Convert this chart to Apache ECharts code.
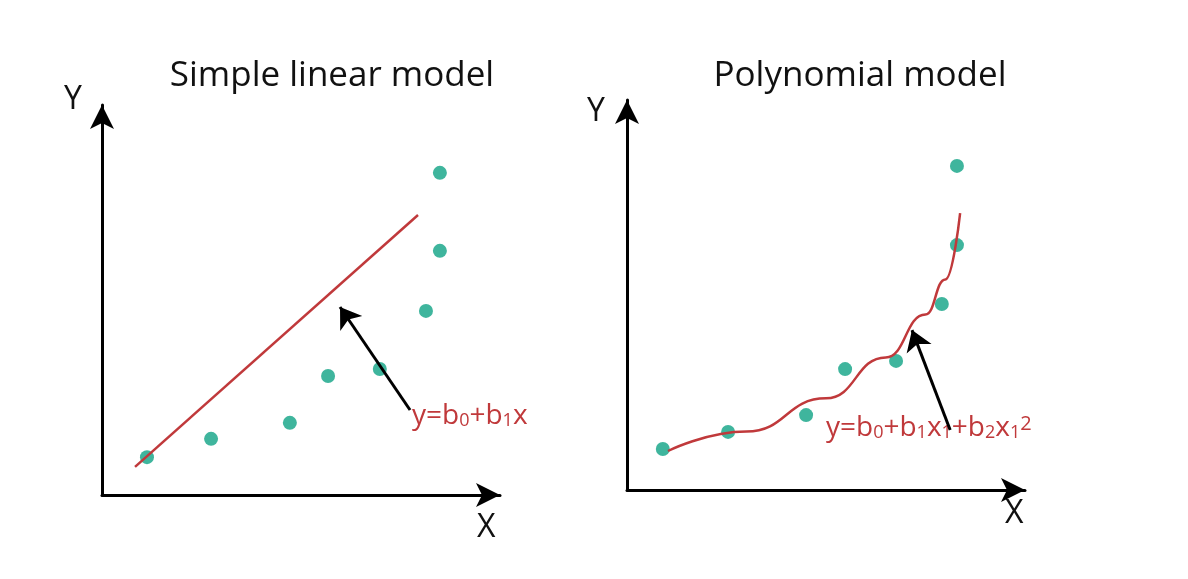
<!DOCTYPE html><html><head><meta charset="utf-8"><script src="https://cdn.jsdelivr.net/npm/echarts@6/dist/echarts.min.js"></script>
<style>body{margin:0;background:#fff}#c{width:1188px;height:579px}</style></head><body><div id="c"></div><script>
const linX=[11.3,27.4,47.2,56.8,69.8,81.4,84.9,84.9];
const linY=[9.7,14.4,18.5,30.5,32.3,47.2,62.6,82.6];
const linFit=[[8.3,7.2],[79.4,71.8]];
const polX=[9.0,25.4,45.0,54.8,67.6,79.1,82.9,82.9];
const polY=[10.5,14.9,19.2,31.0,33.1,47.7,62.8,83.1];
const polFit=[[10.3,10],[30,15],[50,23.5],[65,34],[75,45],[80,54],[83.7,71]];
const titles=['Simple linear model','Polynomial model'];
const teal='#0fa384', red='#c0393b', F='Open Sans';
const zip=(a,b)=>a.map((v,i)=>[v,b[i]]);
const ax=(i)=>({type:'value',gridIndex:i,min:0,max:100,splitLine:{show:false},axisTick:{show:false},axisLabel:{show:false},
 axisLine:{show:true,symbol:['none','arrow'],symbolSize:[18,24],lineStyle:{color:'#000',width:3}}});
const arrow=(i,p)=>({type:'lines',xAxisIndex:i,yAxisIndex:i,coordinateSystem:'cartesian2d',symbol:['none','arrow'],symbolSize:20,
 lineStyle:{color:'#000',width:3,opacity:1},data:[{coords:p}],z:5});
const rich={s:{fontSize:18,fill:red,fontFamily:F,padding:[10,0,0,0]},n:{fontSize:28,fill:red,fontFamily:F},t:{fontSize:20,fill:red,fontFamily:F,padding:[0,0,8,0]}};
const c=echarts.init(document.getElementById('c'));
c.setOption({animation:false,
 title:[{text:titles[0],left:327,top:54,textAlign:'center'},{text:titles[1],left:855,top:54,textAlign:'center'}].map(t=>({...t,textStyle:{fontFamily:F,fontWeight:'normal',fontSize:35,color:'#111'}})),
 grid:[{left:102,top:105,width:398,height:390},{left:627,top:100,width:398,height:390}],
 xAxis:[ax(0),ax(1)],yAxis:[ax(0),ax(1)],
 graphic:[
  {type:'text',left:64,top:84,style:{text:'Y',font:'32px "Open Sans"',fill:'#111'}},
  {type:'text',left:477,top:512,style:{text:'X',font:'32px "Open Sans"',fill:'#111'}},
  {type:'text',left:587,top:96,style:{text:'Y',font:'32px "Open Sans"',fill:'#111'}},
  {type:'text',left:1005,top:498,style:{text:'X',font:'32px "Open Sans"',fill:'#111'}},
  {type:'text',left:412,top:402,style:{rich,text:'{n|y=b}{s|0}{n|+b}{s|1}{n|x}'}},
  {type:'text',left:826,top:414,style:{rich,text:'{n|y=b}{s|0}{n|+b}{s|1}{n|x}{s|1}{n|+b}{s|2}{n|x}{s|1}{t|2}'}}
 ],
 series:[
  {type:'line',xAxisIndex:0,yAxisIndex:0,data:linFit,symbol:'none',lineStyle:{color:red,width:2.5}},
  {type:'scatter',xAxisIndex:0,yAxisIndex:0,data:zip(linX,linY),symbolSize:14,itemStyle:{color:teal}},
  arrow(0,[[77.4,21.8],[59.8,48.2]]),
  {type:'line',xAxisIndex:1,yAxisIndex:1,data:polFit,smooth:0.5,smoothMonotone:'x',symbol:'none',lineStyle:{color:red,width:2.5}},
  {type:'scatter',xAxisIndex:1,yAxisIndex:1,data:zip(polX,polY),symbolSize:14,itemStyle:{color:teal}},
  arrow(1,[[81.2,15.4],[71.6,41]])
 ]});
</script></body></html>
